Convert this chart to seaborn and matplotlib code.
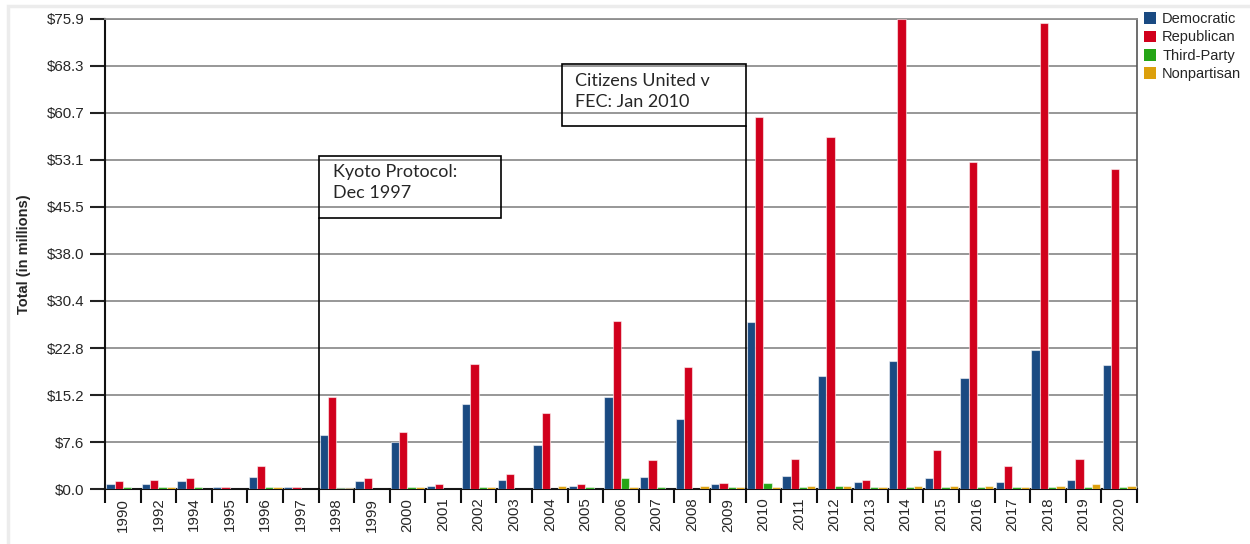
import numpy as np
import pandas as pd
import matplotlib
matplotlib.use("Agg")
import matplotlib.pyplot as plt
from matplotlib.patches import Rectangle, Patch
import seaborn as sns

# ---------------- data ----------------
years = ['1990', '1992', '1994', '1995', '1996', '1997', '1998', '1999', '2000',
         '2001', '2002', '2003', '2004', '2005', '2006', '2007', '2008', '2009',
         '2010', '2011', '2012', '2013', '2014', '2015', '2016', '2017', '2018',
         '2019', '2020']
democratic = [0.8, 0.8, 1.3, 0.3, 2.0, 0.3, 8.7, 1.3, 7.7, 0.6, 13.7, 1.55, 7.1, 0.6,
              14.9, 2.0, 11.3, 0.8, 26.9, 2.1, 18.3, 1.1, 20.7, 1.8, 17.9, 1.1, 22.4,
              1.5, 20.0]
republican = [1.3, 1.55, 1.8, 0.3, 3.7, 0.3, 14.9, 1.8, 9.2, 0.8, 20.2, 2.5, 12.3, 0.8,
              27.1, 4.7, 19.7, 1.06, 60.1, 4.85, 56.8, 1.5, 75.9, 6.3, 52.7, 3.7, 75.1,
              4.85, 51.7]
third_party = [0.3, 0.3, 0.3, 0.1, 0.3, 0.1, 0.2, 0.1, 0.3, 0.1, 0.3, 0.1, 0.1, 0.3,
               1.8, 0.3, 0.1, 0.3, 1.05, 0.3, 0.6, 0.3, 0.3, 0.3, 0.3, 0.3, 0.3, 0.3, 0.3]
nonpartisan = [0.05, 0.3, 0.05, 0.1, 0.3, 0.1, 0.2, 0.1, 0.3, 0.1, 0.3, 0.1, 0.6, 0.1,
               0.3, 0.1, 0.6, 0.3, 0.3, 0.6, 0.6, 0.3, 0.6, 0.6, 0.6, 0.3, 0.6, 0.8, 0.6]
parties = ['Democratic', 'Republican', 'Third-Party', 'Nonpartisan']
colors = ['#1a4a82', '#d1001c', '#26a516', '#dca00c']
ytick_values = [0.0, 7.59, 15.18, 22.77, 30.36, 37.95, 45.54, 53.13, 60.72, 68.31, 75.9]
ytick_labels = ['$0.0', '$7.6', '$15.2', '$22.8', '$30.4', '$38.0', '$45.5', '$53.1',
                '$60.7', '$68.3', '$75.9']
ylabel = 'Total (in millions)'
events = [
    # (last year before event, first year after event, box text)
    ('1997', '1998', 'Kyoto Protocol:\nDec 1997'),
    ('2009', '2010', 'Citizens United v\nFEC: Jan 2010'),
]

# ---------------- frame ----------------
df = pd.DataFrame({
    'year': years * 4,
    'party': sum([[p] * len(years) for p in parties], []),
    'value': democratic + republican + third_party + nonpartisan,
})

sns.set_style('white')
plt.rcParams['font.family'] = ['Liberation Sans', 'DejaVu Sans']

fig = plt.figure(figsize=(12.5, 5.44), dpi=100)
ax = fig.add_axes([105 / 1250, 1 - 489.3 / 544, 1032 / 1250, (489.3 - 18.5) / 544])

sns.barplot(data=df, x='year', y='value', hue='party', order=years, hue_order=parties,
            palette=colors, width=0.93, saturation=1, legend=False, ax=ax,
            edgecolor=(1, 1, 1, 0.55), linewidth=0.8, zorder=3)

n = len(years)
ax.set_xlim(-0.5, n - 0.5)
ax.set_ylim(0, 75.9)

# y axis
ax.set_yticks(ytick_values)
ax.set_yticklabels(ytick_labels, fontsize=10.8)
ax.tick_params(axis='y', which='major', left=True, length=11, width=1.5,
               color='#222222', pad=4, direction='out')
ax.yaxis.grid(True, color='#8f8f8f', linewidth=1.3, zorder=0)
ax.set_axisbelow(True)
ax.set_ylabel(ylabel, fontsize=10.5, fontweight='bold')
ax.yaxis.set_label_coords(-0.072, 0.5)

# x axis
ax.set_xticks(range(n))
ax.set_xticklabels(years, rotation=90, fontsize=10.8)
ax.set_xticks(np.arange(-0.5, n, 1), minor=True)
ax.tick_params(axis='x', which='major', bottom=True, length=0, pad=6)
ax.tick_params(axis='x', which='minor', bottom=True, length=10, width=1.5,
               color='#111111', direction='out')
ax.set_xlabel('')

for s in ['left', 'bottom']:
    ax.spines[s].set_color('#111111')
    ax.spines[s].set_linewidth(1.5)
ax.spines['top'].set_color('#8f8f8f')
ax.spines['top'].set_linewidth(1.3)
ax.spines['right'].set_color('#555555')
ax.spines['right'].set_linewidth(1.2)

# event annotations
box_specs = [
    # (left, right, bottom, top, text_x, text_y)
    (years.index('1998') - 0.5, 10.62, 43.7, 53.7, 5.9, 52.4),
    (12.33, years.index('2010') - 0.5, 58.5, 68.6, 12.72, 67.1),
]
for (y0, y1, txt), (bl, br, bb, bt, tx, ty) in zip(events, box_specs):
    xb = years.index(y1) - 0.5
    ax.plot([xb, xb], [0, bb], color='black', linewidth=1.2, zorder=5)
    ax.add_patch(Rectangle((bl, bb), br - bl, bt - bb, fill=False, edgecolor='black',
                           linewidth=1.2, zorder=5))
    ax.text(tx, ty, txt, fontsize=13, family=['Lato', 'DejaVu Sans'], va='top',
            ha='left', linespacing=1.4, zorder=6)

# legend
handles = [Patch(facecolor=c, edgecolor='none', label=p) for p, c in zip(parties, colors)]
fig.legend(handles=handles, loc='upper left', bbox_to_anchor=(1144 / 1250, 1 - 12 / 544),
           frameon=False, fontsize=10.5, handlelength=0.85, handleheight=0.85,
           handletextpad=0.4, labelspacing=0.3, borderaxespad=0, borderpad=0)

# faint outer frame
fig.patches.append(Rectangle((8 / 1250, -0.05), 1.2, 1.05 - 6 / 544,
                             transform=fig.transFigure, fill=False,
                             edgecolor='#ececec', linewidth=2.5))

fig.savefig('out.png', dpi=100)
